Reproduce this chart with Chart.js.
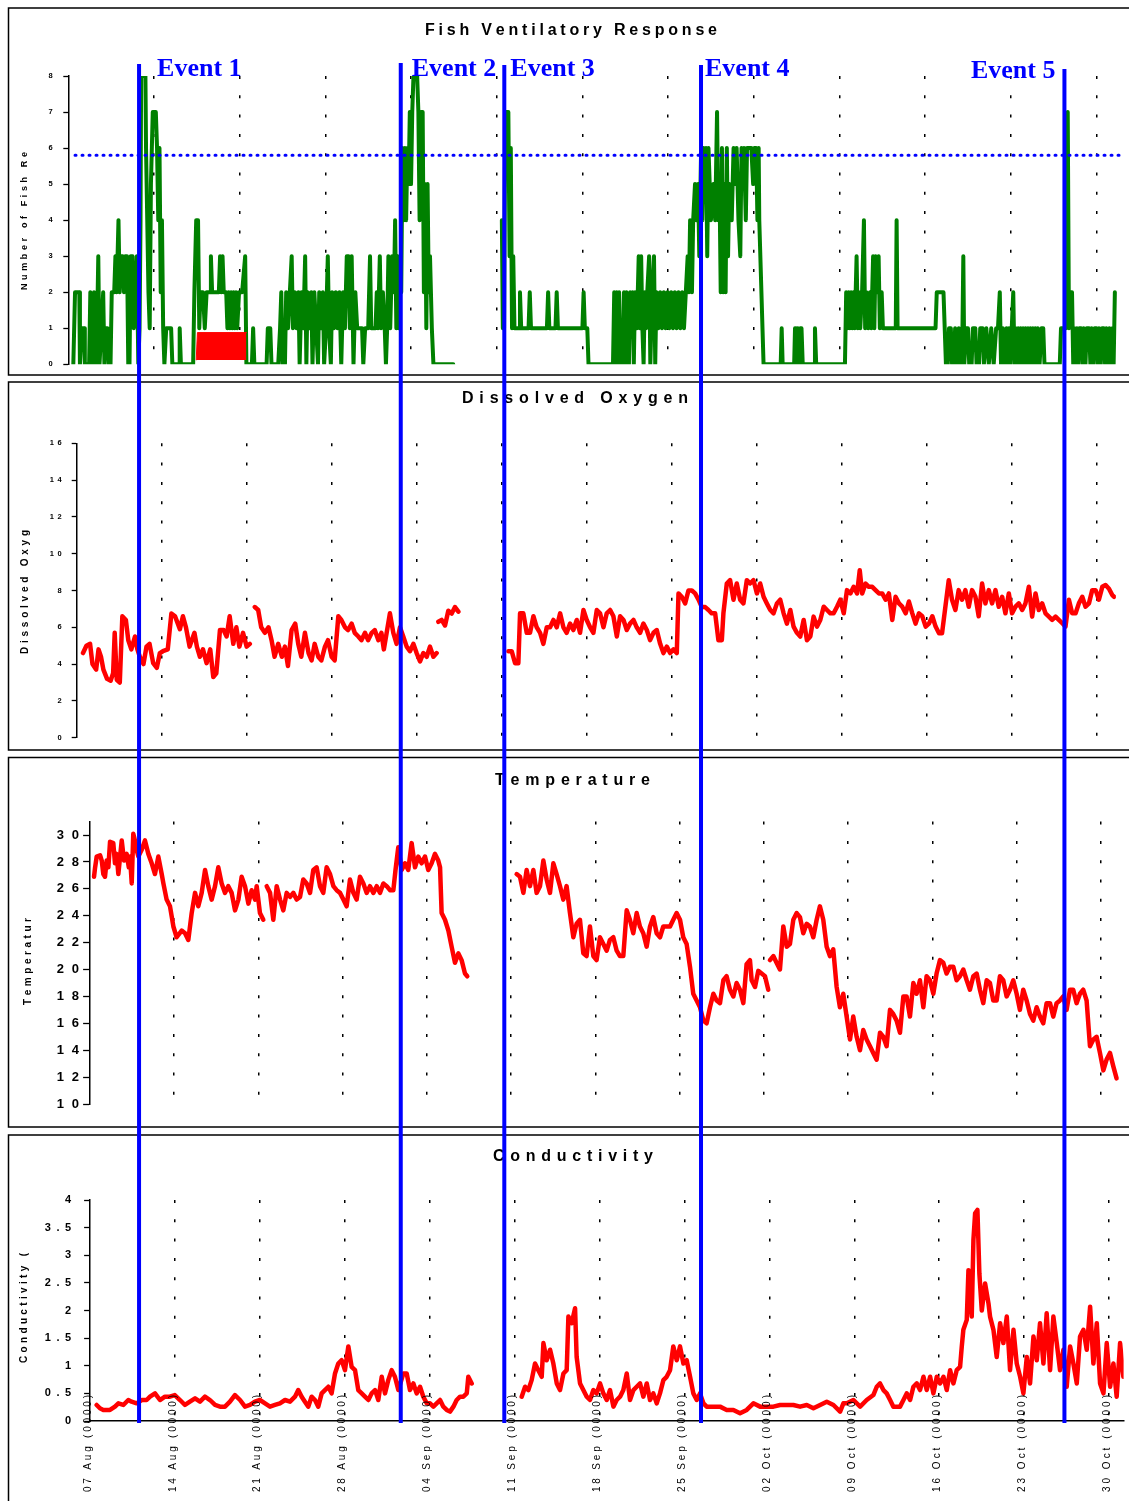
<!DOCTYPE html>
<html><head><meta charset="utf-8">
<script src="https://cdn.jsdelivr.net/npm/chart.js@4.4.1/dist/chart.umd.min.js"></script>
<style>
html,body{margin:0;padding:0;background:#fff;}
#wrap{position:relative;width:1129px;height:1501px;overflow:hidden;background:#fff;}
#wrap canvas{position:absolute;left:0;}
#ov{pointer-events:none;}
</style></head><body>
<div id="wrap">
<canvas id="c1" width="1129" height="378" style="top:0px"></canvas>
<canvas id="c2" width="1129" height="376" style="top:378px"></canvas>
<canvas id="c3" width="1129" height="377" style="top:754px"></canvas>
<canvas id="c4" width="1129" height="370" style="top:1131px"></canvas>
<canvas id="ov" width="1129" height="1501" style="top:0px"></canvas>
</div>
<script>
// ---------- DATA (days since 07 Aug 00:00) ----------
const weekDays = [0,7,14,21,28,35,42,49,56,63,70,77,84];
const weekLabels = ['07 Aug (0000)','14 Aug (0000)','21 Aug (0000)','28 Aug (0000)','04 Sep (0000)','11 Sep (0000)','18 Sep (0000)','25 Sep (0000)','02 Oct (0000)','09 Oct (0000)','16 Oct (0000)','23 Oct (0000)','30 Oct (0000)'];
const panelTitles = ['Fish Ventilatory Response','Dissolved Oxygen','Temperature','Conductivity'];
const axisTitles = ['Number of Fish Re','Dissolved Oxyg','Temperatur','Conductivity ('];
const fishTicks = [0,1,2,3,4,5,6,7,8];
const doTicks = [0,2,4,6,8,10,12,14,16];
const tempTicks = [10,12,14,16,18,20,22,24,26,28,30];
const condTicks = [0,0.5,1,1.5,2,2.5,3,3.5,4];
const eventNames = ['Event 1','Event 2','Event 3','Event 4','Event 5'];
const eventDays = [5.78,27.16,35.62,51.69,81.38];
const thresholdDays = [0.55,85.9];
const thresholdVals = [5.8,5.8];
const redDays = [10.45,10.55,14.55];
const redVals = [0.12,0.88,0.88];

const fishDays = [
0.41,0.55,0.9,0.95,1.1,1.3,1.35,1.7,1.8,2.0,
2.1,2.2,2.3,2.45,2.55,2.7,2.85,2.95,3.05,3.2,
3.3,3.45,3.55,3.75,3.85,3.95,4.1,4.2,4.3,4.45,
4.55,4.65,4.8,4.9,5.0,5.1,5.25,5.35,5.5,5.6,
5.72,5.82,5.9,5.95,6.3,6.35,6.45,6.55,6.65,6.75,
6.9,7.15,7.25,7.35,7.45,7.55,7.65,7.75,7.85,8.0,
8.4,8.5,9.05,9.1,9.2,10.2,10.3,10.45,10.6,10.7,
10.8,11.0,11.15,11.3,11.6,11.65,11.75,12.3,12.4,12.5,
12.6,12.7,12.9,13.0,13.1,13.2,13.3,13.4,13.5,13.6,
13.7,13.8,13.95,14.2,14.45,14.55,15.0,15.1,15.2,16.2,
16.3,16.5,16.6,17.15,17.3,17.4,17.5,17.6,17.7,17.8,
17.95,18.1,18.25,18.35,18.5,18.65,18.8,18.9,19.05,19.2,
19.35,19.45,19.55,19.7,19.85,19.95,20.1,20.25,20.4,20.5,
20.65,20.8,20.9,21.05,21.2,21.3,21.45,21.55,21.7,21.85,
22.0,22.15,22.3,22.45,22.6,22.75,22.9,23.0,23.15,23.3,
23.45,23.6,23.75,24.0,24.1,24.25,24.5,24.65,24.75,25.1,
25.2,25.3,25.45,25.55,25.7,25.85,25.95,26.05,26.15,26.3,
26.45,26.6,26.7,26.8,26.9,27.0,27.1,27.2,27.3,27.4,
27.5,27.6,27.7,27.8,27.9,28.0,28.1,28.2,28.5,28.6,
28.7,28.8,28.95,29.05,29.15,29.25,29.35,29.45,29.55,29.7,
29.83,31.45,31.6,35.42,35.5,35.6,35.7,35.95,36.05,36.15,
36.25,36.35,36.45,36.85,36.9,37.0,37.6,37.7,37.8,39.1,
39.2,39.3,39.8,39.9,40.0,42.0,42.1,42.2,42.4,42.5,
44.5,44.6,44.7,44.8,44.9,45.0,45.1,45.2,45.3,45.4,
45.5,45.6,45.7,45.8,45.9,46.0,46.1,46.2,46.3,46.45,
46.6,46.7,46.8,46.9,47.0,47.1,47.2,47.3,47.45,47.55,
47.7,47.85,47.95,48.05,48.2,48.35,48.5,48.65,48.8,48.95,
49.1,49.25,49.4,49.55,49.7,49.85,50.0,50.15,50.3,50.45,
50.6,50.7,50.8,50.95,51.05,51.2,51.3,51.45,51.55,51.7,
51.8,51.9,52.0,52.1,52.2,52.3,52.5,52.7,52.85,53.0,
53.1,53.2,53.3,53.4,53.5,53.6,53.7,53.8,53.9,54.0,
54.2,54.35,54.5,54.6,54.75,54.9,55.0,55.1,55.2,55.35,
55.45,55.6,55.8,55.95,56.05,56.2,56.3,56.4,56.45,56.8,
58.2,58.28,58.36,59.3,59.37,59.45,59.6,59.7,59.8,59.9,
60.0,60.95,61.0,61.1,63.45,63.55,63.65,63.75,63.85,63.95,
64.05,64.15,64.25,64.4,64.5,64.6,64.7,64.85,65.0,65.1,
65.2,65.35,65.5,65.6,65.75,65.85,65.95,66.1,66.2,66.3,
66.45,66.55,67.6,67.67,67.75,70.85,70.95,71.5,71.7,71.85,
71.95,72.1,72.2,72.35,72.45,72.6,72.75,72.9,73.05,73.12,
73.2,73.35,73.5,73.6,73.8,73.9,74.1,74.2,74.4,74.5,
74.7,74.8,75.0,75.2,75.4,75.6,75.8,75.95,76.1,76.2,
76.35,76.5,76.65,76.75,76.85,76.95,77.2,77.3,77.4,77.5,
77.6,77.7,77.8,77.9,78.0,78.1,78.2,78.3,78.4,78.5,
78.6,78.7,78.8,78.9,79.0,79.1,79.2,79.35,79.5,79.65,
79.75,81.0,81.1,81.5,81.65,81.75,81.85,82.0,82.1,82.2,
82.3,82.4,82.5,82.6,82.75,82.85,82.95,83.1,83.2,83.4,
83.5,83.6,83.75,83.85,84.0,84.1,84.2,84.35,84.45,84.6,
84.7,84.8,84.95,85.05,85.2,85.3,85.4,85.5];
const fishCounts = [
0,2,2,0,1,1,0,0,2,0,
2,1,0,3,0,1,2,0,1,1,
0,0,2,2,3,2,4,2,3,3,
2,3,3,0,0,3,3,1,2,3,
0,1,4,8,8,6,4,2,1,5,
7,7,6,4,6,2,4,1,0,1,
1,0,0,1,0,0,2,4,4,1,
2,2,1,2,2,3,2,2,3,2,
3,2,2,1,2,1,2,1,2,1,
2,1,2,2,3,0,0,1,0,0,
1,1,0,0,1,2,0,1,0,2,
1,2,3,1,2,1,2,0,2,1,
3,0,2,1,2,0,2,1,0,2,
1,2,0,1,3,1,0,2,1,2,
1,2,0,2,1,3,3,1,3,0,
2,1,1,1,0,1,1,3,1,1,
2,1,3,1,2,1,0,1,3,1,
3,2,4,1,3,1,3,2,6,4,
6,4,6,5,7,5,7,8,8,7,
4,7,7,2,5,1,5,2,3,1,
0,0,null,4,1,1,7,7,3,6,
1,3,1,1,2,1,1,2,1,1,
2,1,1,2,1,1,2,1,1,0,
0,2,0,2,0,2,0,1,0,2,
0,2,1,0,2,1,2,0,2,1,
3,1,3,1,0,2,1,2,3,0,
2,3,0,2,1,2,1,2,1,2,
1,2,1,2,1,2,1,2,1,2,
3,2,4,2,4,5,4,5,3,6,
4,6,5,6,3,6,4,5,4,7,
4,5,2,6,2,5,2,6,3,5,
4,6,5,6,4,3,6,5,6,4,
6,6,6,5,6,6,4,6,4,0,
0,1,0,0,1,0,1,0,1,1,
0,0,1,0,0,2,1,2,1,2,
1,2,1,3,1,2,1,2,4,1,
2,1,2,1,3,1,3,2,3,1,
2,1,1,4,1,1,2,2,0,0,
1,1,0,0,1,0,1,0,1,3,
0,1,1,0,0,1,1,0,0,1,
1,0,1,0,1,0,1,1,2,0,
1,0,1,0,1,0,2,0,1,0,
1,0,1,0,1,0,1,0,1,0,
1,0,1,0,1,0,1,0,1,1,
0,0,1,1,7,1,2,2,0,1,
0,1,0,1,1,0,1,0,1,1,
0,1,0,1,1,0,1,0,1,1,
0,1,0,1,0,1,0,2];

const doDays = [
0.52,0.8,1.1,1.3,1.6,1.8,2.0,2.2,2.5,2.8,
3.0,3.13,3.3,3.55,3.76,4.05,4.25,4.5,4.8,5.0,
5.2,5.5,5.75,6.0,6.3,6.6,6.85,7.1,7.5,7.8,
8.1,8.5,8.75,9.0,9.3,9.7,9.9,10.15,10.4,10.7,
11.0,11.25,11.5,11.8,12.1,12.35,12.6,12.9,13.15,13.4,
13.7,14.0,14.26,14.45,14.67,14.95,15.2,15.5,15.8,16.05,
16.3,16.6,16.9,17.15,17.4,17.7,18.0,18.25,18.5,18.8,
19.1,19.35,19.6,19.9,20.15,20.45,20.7,21.0,21.25,21.55,
21.8,22.1,22.35,22.65,22.9,23.2,23.45,23.75,24.0,24.3,
24.55,24.85,25.1,25.3,25.53,25.8,26.08,26.35,26.63,26.9,
27.18,27.45,27.73,28.0,28.28,28.55,28.83,29.1,29.38,29.65,
29.72,29.79,30.06,30.34,30.61,30.89,31.16,31.44,31.6,35.56,
35.83,36.11,36.38,36.52,36.79,37.07,37.34,37.62,37.89,38.17,
38.44,38.72,38.99,39.27,39.54,39.82,40.09,40.36,40.64,40.91,
41.19,41.46,41.74,42.01,42.29,42.56,42.84,43.11,43.39,43.66,
43.94,44.21,44.49,44.76,45.04,45.31,45.58,45.86,46.13,46.41,
46.68,46.96,47.23,47.51,47.78,48.06,48.33,48.61,48.88,49.16,
49.43,49.57,49.84,50.12,50.39,50.67,50.94,51.22,51.49,51.77,
52.04,52.31,52.59,52.86,53.14,53.27,53.55,53.82,54.1,54.37,
54.65,54.92,55.2,55.47,55.75,56.03,56.3,56.58,56.85,57.13,
57.4,57.68,57.95,58.23,58.5,58.78,59.05,59.33,59.6,59.88,
60.15,60.43,60.7,60.98,61.25,61.53,61.8,62.08,62.35,62.63,
62.9,63.18,63.45,63.73,64.0,64.28,64.5,64.7,64.98,65.25,
65.53,65.8,66.08,66.35,66.63,66.9,67.18,67.45,67.73,68.0,
68.28,68.55,68.83,69.1,69.38,69.65,69.93,70.2,70.48,70.75,
71.03,71.28,71.83,72.1,72.38,72.65,72.93,73.2,73.48,73.75,
74.03,74.3,74.58,74.85,75.13,75.4,75.68,75.95,76.23,76.5,
76.78,77.05,77.33,77.6,77.88,78.15,78.43,78.7,78.98,79.25,
79.53,79.8,80.08,80.35,80.63,80.9,81.18,81.45,81.73,82.0,
82.28,82.55,82.83,83.1,83.38,83.65,83.93,84.2,84.48,84.75,
85.03,85.3,85.45];
const doVals = [
4.6,5.0,5.1,4.0,3.7,4.8,4.4,3.7,3.2,3.1,
3.5,5.7,3.15,3.0,6.6,6.4,5.3,4.8,5.5,4.8,
4.4,4.0,4.95,5.1,4.05,3.8,4.6,4.7,4.8,6.75,
6.6,5.9,6.6,6.0,4.95,5.7,4.95,4.4,4.8,4.05,
4.8,3.3,3.5,5.85,5.85,5.5,6.6,5.1,6.0,4.95,
5.7,4.95,5.1,null,7.1,6.94,6.0,5.7,6.0,5.3,
4.4,5.1,4.4,4.95,3.9,5.85,6.2,5.1,4.4,5.7,
4.6,4.2,5.1,4.4,4.2,4.95,5.3,4.4,4.2,6.6,
6.4,6.0,5.85,6.2,5.7,5.5,5.3,5.7,5.3,5.7,
5.85,5.3,5.7,4.8,5.7,6.76,5.7,5.1,6.0,5.5,
4.95,4.7,5.1,4.6,4.15,4.6,4.4,4.95,4.4,4.6,
null,6.3,6.4,6.1,6.9,6.75,7.1,6.85,null,4.7,
4.7,4.05,4.05,6.76,6.76,5.7,5.7,6.6,6.0,5.7,
5.1,6.0,6.0,6.4,6.0,6.76,6.0,5.7,6.2,5.85,
6.4,5.7,6.94,6.4,6.0,5.7,6.94,6.76,6.0,6.76,
6.94,6.6,5.5,6.6,6.4,5.85,6.2,6.4,6.0,5.7,
6.2,5.85,5.3,5.7,5.85,5.1,4.6,4.95,4.6,4.8,
4.6,7.84,7.66,7.3,8.0,8.0,7.84,7.5,7.1,7.1,
6.94,6.76,6.76,5.3,5.3,6.76,8.38,8.56,7.5,8.38,
7.5,7.3,8.56,8.38,8.56,7.84,8.38,7.66,7.3,6.94,
6.76,7.3,7.5,6.76,6.2,6.94,6.04,5.7,5.5,6.4,
5.3,5.5,6.58,6.04,6.4,7.12,6.94,6.76,6.76,7.12,
7.5,6.76,8.02,7.84,8.2,7.84,9.1,7.84,8.38,8.2,
8.2,8.02,7.84,7.84,7.5,7.84,6.4,7.66,7.3,7.12,
6.76,7.4,6.76,6.2,6.76,6.6,6.04,6.2,6.6,6.04,
5.68,5.68,8.56,7.5,6.94,8.02,7.5,8.02,7.12,8.02,
7.66,6.6,8.38,7.3,8.02,7.3,8.02,7.12,7.66,6.76,
7.84,6.76,7.12,7.3,6.94,7.3,8.2,6.58,7.84,6.94,
7.3,6.76,6.58,6.4,6.58,6.4,6.22,6.04,7.5,6.76,
6.76,7.3,7.66,7.12,7.3,8.02,8.02,7.5,8.2,8.3,
8.1,7.75,7.66];

const tempDays = [
0.36,0.45,0.58,0.86,1.0,1.13,1.27,1.41,1.55,1.69,
1.96,2.1,2.24,2.38,2.66,2.85,3.07,3.25,3.35,3.49,
3.62,3.76,3.9,4.04,4.32,4.59,4.87,5.15,5.42,5.7,
5.98,6.12,6.39,6.67,6.95,7.22,7.64,7.92,8.19,8.47,
8.75,9.02,9.3,9.58,9.85,10.13,10.41,10.68,10.96,11.24,
11.51,11.79,12.07,12.35,12.62,12.9,13.18,13.45,13.73,13.87,
14.14,14.42,14.56,14.7,14.98,15.25,15.53,15.81,16.08,16.36,
16.64,16.91,17.19,17.47,17.74,18.02,18.3,18.57,18.85,19.13,
19.4,19.68,19.96,20.24,20.51,20.79,21.07,21.34,21.62,21.9,
22.17,22.45,22.73,23.0,23.28,23.56,23.84,24.11,24.39,24.67,
24.94,25.22,25.4,25.63,25.91,26.19,26.46,26.74,27.02,27.29,
27.57,27.85,28.12,28.4,28.68,28.95,29.1,29.23,29.51,29.79,
30.06,30.34,30.62,30.89,31.17,31.36,31.5,35.46,35.74,36.02,
36.29,36.57,36.85,37.12,37.4,37.68,37.95,38.23,38.51,38.78,
39.06,39.34,39.61,39.89,40.17,40.44,40.72,41.0,41.27,41.55,
41.83,42.1,42.38,42.66,42.94,43.21,43.49,43.77,44.04,44.32,
44.6,44.87,45.15,45.43,45.7,45.98,46.26,46.54,46.81,47.09,
47.37,47.64,47.92,48.2,48.47,48.75,49.03,49.3,49.58,49.86,
50.13,50.41,50.69,50.97,51.24,51.52,51.8,52.07,52.35,52.63,
52.9,53.18,53.46,53.73,54.01,54.29,54.56,54.84,54.98,55.26,
55.53,55.81,56.09,56.36,56.43,56.5,56.78,57.05,57.33,57.61,
57.89,58.16,58.44,58.72,58.99,59.27,59.55,59.82,60.1,60.38,
60.65,60.93,61.21,61.48,61.76,62.04,62.31,62.59,62.87,63.15,
63.42,63.7,63.98,64.25,64.53,64.81,65.08,65.36,65.64,65.91,
66.19,66.47,66.74,67.02,67.3,67.58,67.85,68.13,68.41,68.68,
68.96,69.24,69.51,69.79,70.07,70.34,70.62,70.9,71.17,71.45,
71.73,72.0,72.28,72.56,72.84,73.11,73.39,73.67,73.94,74.22,
74.5,74.77,75.05,75.33,75.6,75.88,76.16,76.43,76.71,76.99,
77.26,77.54,77.82,78.1,78.37,78.65,78.93,79.2,79.48,79.76,
80.03,80.31,80.59,80.86,81.14,81.42,81.69,81.97,82.25,82.52,
82.8,83.08,83.36,83.63,83.91,84.19,84.46,84.74,85.02,85.29];
const tempVals = [
26.9,27.6,28.4,28.5,28.1,27.1,26.9,28.1,27.6,29.5,
29.4,27.9,28.6,27.1,29.6,28.1,28.6,27.6,28.4,26.4,
30.1,29.6,28.9,28.4,28.9,29.6,28.6,27.9,27.1,28.4,
27.1,26.4,25.2,24.7,23.2,22.4,22.9,22.7,22.2,24.2,
25.7,24.7,25.7,27.4,26.2,25.2,26.2,27.6,26.4,25.7,
26.2,25.7,24.4,25.2,26.9,26.2,24.9,25.9,25.2,26.2,
24.2,23.7,null,26.2,25.7,23.7,26.2,25.2,24.4,25.7,
25.4,25.7,25.2,25.4,26.7,26.4,25.7,27.4,27.6,26.2,
25.7,27.6,27.1,26.2,25.9,25.7,25.2,24.7,26.7,25.7,
25.2,26.9,26.4,25.7,26.2,25.7,26.2,25.7,26.4,26.2,
25.9,25.9,27.4,29.1,27.4,27.9,27.4,29.4,27.6,28.4,
27.9,28.4,27.4,27.9,28.6,28.1,27.6,24.2,23.7,22.9,
21.7,20.5,21.2,20.7,19.7,19.5,null,27.1,26.9,25.7,
27.4,26.2,27.4,25.7,26.2,28.1,26.7,25.7,27.9,27.1,
26.2,25.2,26.2,24.2,22.4,23.4,23.7,21.2,21.0,23.2,
21.0,20.7,22.4,21.9,21.4,22.2,22.4,21.4,21.0,21.0,
24.4,23.7,22.7,24.2,23.2,22.7,21.7,23.2,23.9,22.7,
22.4,23.2,23.2,23.2,23.7,24.2,23.7,22.4,21.9,20.2,
18.2,17.7,17.2,16.2,16.0,17.2,18.2,17.7,17.5,19.2,
19.5,18.5,18.0,19.0,18.5,17.5,20.4,20.7,19.2,18.7,
19.9,19.7,19.5,18.5,null,20.7,21.0,20.5,20.0,23.2,
21.7,21.9,23.7,24.2,23.9,22.7,23.4,23.2,22.4,23.7,
24.7,23.7,21.7,21.0,21.5,18.7,17.2,18.2,16.5,14.8,
16.5,15.0,14.0,15.5,14.8,14.3,13.8,13.3,15.3,15.0,
14.3,17.0,16.7,16.2,15.3,18.0,18.0,16.5,19.0,18.2,
19.2,17.2,19.5,19.2,18.2,19.7,20.7,20.5,19.7,20.2,
20.2,19.2,19.5,20.0,19.2,18.5,19.5,19.7,18.5,17.5,
19.2,19.0,17.7,17.7,19.5,19.2,18.0,18.5,19.2,18.2,
17.0,18.5,17.7,16.7,16.2,17.2,16.5,16.0,17.5,17.5,
16.5,17.5,17.7,18.0,17.0,18.5,18.5,17.5,18.2,18.5,
17.7,14.3,14.8,15.0,13.8,12.5,13.3,13.8,12.8,11.9];

const condDays = [
0.54,0.81,1.09,1.64,2.05,2.33,2.74,3.15,3.42,3.84,
4.25,4.66,4.94,5.35,5.76,6.17,6.58,6.98,7.41,7.82,
8.23,8.65,9.06,9.47,9.88,10.3,10.71,11.12,11.53,11.94,
12.36,12.77,13.18,13.59,14.0,14.42,14.83,15.24,15.65,16.07,
16.48,16.89,17.16,17.44,17.71,17.99,18.26,18.54,18.81,19.09,
19.36,19.64,19.91,20.19,20.46,20.74,21.01,21.29,21.56,21.84,
22.11,22.39,22.66,22.94,23.21,23.49,23.76,24.04,24.31,24.58,
24.86,25.13,25.41,25.82,26.1,26.37,26.65,26.92,27.2,27.47,
27.75,28.02,28.3,28.57,28.85,29.12,29.4,29.67,29.95,30.22,
30.5,30.77,31.05,31.18,31.46,31.6,35.58,35.86,36.13,36.4,
36.68,36.95,37.23,37.37,37.64,37.92,38.19,38.47,38.74,39.02,
39.29,39.43,39.7,39.98,40.11,40.39,40.66,40.94,41.21,41.49,
41.76,42.04,42.31,42.59,42.86,43.14,43.41,43.69,43.96,44.24,
44.51,44.79,45.06,45.34,45.61,45.89,46.16,46.43,46.71,46.98,
47.26,47.53,47.81,48.08,48.36,48.63,48.91,49.18,49.46,49.73,
50.01,50.28,50.56,50.83,51.38,51.93,52.48,53.03,53.58,54.13,
54.68,55.23,55.78,56.33,56.88,57.43,57.98,58.53,59.08,59.63,
60.18,60.73,61.28,61.83,62.1,62.38,62.93,63.48,64.02,64.57,
64.85,65.12,65.4,65.67,65.95,66.22,66.5,66.77,67.05,67.32,
67.6,67.87,68.15,68.42,68.7,68.97,69.25,69.52,69.8,70.07,
70.35,70.62,70.9,71.17,71.44,71.72,71.86,71.99,72.27,72.41,
72.68,72.82,72.96,73.15,73.31,73.51,73.78,74.06,74.19,74.47,
74.74,75.02,75.29,75.57,75.84,76.12,76.39,76.67,76.94,77.22,
77.49,77.77,78.04,78.31,78.59,78.86,79.14,79.41,79.69,79.96,
80.24,80.51,80.79,81.06,81.34,81.61,81.89,82.16,82.44,82.71,
82.99,83.26,83.54,83.81,84.09,84.36,84.63,84.91,85.18];
const condVals = [
0.29,0.23,0.2,0.2,0.26,0.32,0.29,0.38,0.35,0.32,
0.38,0.38,0.44,0.5,0.38,0.44,0.44,0.47,0.38,0.29,
0.35,0.41,0.35,0.44,0.38,0.29,0.26,0.26,0.35,0.47,
0.38,0.26,0.29,0.35,0.38,0.32,0.26,0.29,0.32,0.38,
0.35,0.44,0.56,0.44,0.35,0.26,0.44,0.38,0.26,0.5,
0.56,0.62,0.5,0.86,1.04,1.1,0.92,1.35,0.98,0.92,
0.56,0.5,0.44,0.38,0.5,0.56,0.38,0.8,0.5,0.74,
0.92,0.8,0.56,0.86,0.86,0.56,0.68,0.5,0.62,0.44,
0.32,0.32,0.26,0.32,0.38,0.26,0.2,0.17,0.26,0.38,
0.44,0.44,0.5,0.8,0.68,null,0.44,0.62,0.56,0.74,
1.04,0.92,0.8,1.41,1.1,1.29,1.04,0.68,0.56,0.86,
0.92,1.89,1.77,2.04,1.16,0.68,0.56,0.44,0.38,0.56,
0.5,0.68,0.5,0.38,0.56,0.26,0.38,0.44,0.56,0.86,
0.38,0.56,0.62,0.68,0.44,0.68,0.38,0.5,0.32,0.5,
0.74,0.8,0.92,1.35,1.1,1.35,1.04,1.1,0.8,0.5,
0.38,0.5,0.32,0.26,0.26,0.26,0.2,0.2,0.14,0.2,
0.32,0.26,0.26,0.26,0.29,0.29,0.29,0.26,0.29,0.23,
0.29,0.35,0.29,0.17,0.32,0.32,0.38,0.26,0.38,0.47,
0.62,0.68,0.56,0.5,0.38,0.26,0.26,0.26,0.38,0.5,
0.38,0.62,0.68,0.56,0.8,0.56,0.8,0.5,0.8,0.68,
0.8,0.56,0.92,0.68,0.92,0.98,1.35,1.65,1.83,2.73,
1.89,3.28,3.76,3.82,2.67,2.0,2.49,2.13,1.89,1.65,
1.16,1.77,1.41,1.89,0.92,1.65,1.04,0.8,0.5,1.16,
0.68,1.53,1.1,1.77,1.04,1.95,0.92,1.89,1.41,0.92,
1.29,0.62,1.35,1.04,0.68,1.53,1.65,1.29,2.07,1.04,
1.77,0.68,0.5,1.41,0.62,1.04,0.44,1.41,0.8];

// ---------- STYLE / LAYOUT ----------
const GREEN = '#008000', RED = '#ff0000', BLUE = '#0000ff';
const SANS = '"Liberation Sans", Arial, sans-serif';
const panels = [
  {id:'c1', top:0,    pad:{left:8.3, right:1.9, top:76,   bottom:13.7}, xMax:86.5, yMin:0,  yMax:8,  ticks:fishTicks, tick:{size:7.5, ls:2,   pad:8.6, tl:5},   xBorder:false, lw:4},
  {id:'c2', top:378,  pad:{left:16.7,right:13.1,top:65.3, bottom:16.3}, xMax:85.6, yMin:0,  yMax:16, ticks:doTicks,   tick:{size:7.5, ls:3.5, pad:6.5, tl:5},   xBorder:false, lw:4.5},
  {id:'c3', top:754,  pad:{left:29.7,right:9.9, top:67.6, bottom:27},   xMax:85.5, yMin:10, yMax:31, ticks:tempTicks, tick:{size:13,  ls:8,   pad:-4,  tl:6.6}, xBorder:false, lw:4.5},
  {id:'c4', top:1131, pad:{left:30.1,right:5.4, top:69,   bottom:80},   xMax:85.2, yMin:0,  yMax:4,  ticks:condTicks, tick:{size:11,  ls:5.5, pad:7.5, tl:6},   xBorder:true,  lw:4.5}
];
const frames = [[8,375],[382,750],[757.5,1127],[1135,1560]];
const titleStyle = [
  {cx:571, cy:30.5, w:292, size:16},
  {cx:575, cy:399,  w:226, size:16},
  {cx:572.5, cy:780.5, w:155, size:16},
  {cx:573, cy:1157, w:160, size:16}
];
const axisTitleStyle = [
  {cx:25,   cy:221,    w:138, size:9},
  {cx:25,   cy:592,    w:124, size:10},
  {cx:28.7, cy:961.5,  w:87,  size:10},
  {cx:24.5, cy:1308,   w:110, size:10}
];
const eventStyle = [
  {top:64, dx:18, align:'left',  base:76},
  {top:63, dx:11, align:'left',  base:76},
  {top:65, dx:6,  align:'left',  base:76},
  {top:65, dx:4,  align:'left',  base:76},
  {top:69, dx:-9, align:'right', base:78}
];

const pts = (xs, ys) => xs.map((x, i) => ({x: x, y: ys[i]}));
const lineDs = (data, color, lw, extra) => Object.assign({
  data: data, borderColor: color, backgroundColor: color, borderWidth: lw,
  pointRadius: 0, fill: false, spanGaps: false, tension: 0,
  borderJoinStyle: 'round', borderCapStyle: 'round'
}, extra || {});

function makeChart(p, datasets) {
  const tickLS = p.tick.ls;
  return new Chart(document.getElementById(p.id), {
    type: 'line',
    data: {datasets: datasets},
    options: {
      responsive: false, animation: false, events: [],
      layout: {padding: p.pad},
      plugins: {legend: {display: false}, tooltip: {enabled: false}, title: {display: false}},
      scales: {
        x: {
          type: 'linear', min: 0, max: p.xMax,
          afterBuildTicks: s => { s.ticks = weekDays.map(v => ({value: v})); },
          ticks: {display: false, autoSkip: false},
          grid: {
            drawTicks: false, lineWidth: 1.5,
            color: c => (c.tick && c.tick.value > 0) ? '#000' : 'rgba(0,0,0,0)'
          },
          border: {display: p.xBorder, color: '#000', width: 1.5, dash: [3, 16.3]},
          afterFit: s => { s.height = 0; }
        },
        y: {
          type: 'linear', min: p.yMin, max: p.yMax,
          afterBuildTicks: s => { s.ticks = p.ticks.map(v => ({value: v})); },
          ticks: {color: '#000', autoSkip: false, padding: p.tick.pad,
                  callback: v => String(v),
                  font: {family: SANS, size: p.tick.size, weight: 'bold'}},
          grid: {drawOnChartArea: false, drawTicks: true, tickLength: p.tick.tl,
                 tickColor: '#000', tickWidth: 1.3, color: '#000'},
          border: {display: true, color: '#000', width: 1.5},
          afterFit: s => { s.width = 60; }
        }
      }
    },
    plugins: [{
      id: 'tickSpacing',
      beforeDraw(chart) { chart.ctx.letterSpacing = tickLS + 'px'; },
      afterDraw(chart) { chart.ctx.letterSpacing = '0px'; }
    }]
  });
}

const charts = [];
charts.push(makeChart(panels[0], [
  lineDs(pts(thresholdDays, thresholdVals), BLUE, 3, {borderDash: [1, 6]}),
  lineDs(pts(redDays, redVals), RED, 1, {fill: {value: 0.12}}),
  lineDs(pts(fishDays, fishCounts), GREEN, panels[0].lw)
]));
charts.push(makeChart(panels[1], [lineDs(pts(doDays, doVals), RED, panels[1].lw)]));
charts.push(makeChart(panels[2], [lineDs(pts(tempDays, tempVals), RED, panels[2].lw)]));
charts.push(makeChart(panels[3], [lineDs(pts(condDays, condVals), RED, panels[3].lw)]));

// ---------- OVERLAY: frames, titles, date labels, events ----------
const ov = document.getElementById('ov').getContext('2d');
function spacedText(ctx, text, x, y, font, targetW, angle, align, baseline) {
  ctx.save();
  ctx.font = font;
  ctx.translate(x, y);
  if (angle) ctx.rotate(angle);
  const chars = Array.from(text);
  const ws = chars.map(c => ctx.measureText(c).width);
  const raw = ws.reduce((a, b) => a + b, 0);
  const sp = chars.length > 1 ? (targetW - raw) / (chars.length - 1) : 0;
  let cx = align === 'center' ? -targetW / 2 : (align === 'right' ? -targetW : 0);
  ctx.textAlign = 'left';
  ctx.textBaseline = baseline || 'middle';
  chars.forEach((c, i) => { ctx.fillText(c, cx, 0); cx += ws[i] + sp; });
  ctx.restore();
}

ov.strokeStyle = '#000';
ov.lineWidth = 1.5;
frames.forEach(f => { ov.strokeRect(8.5, f[0], 1200, f[1] - f[0]); });

ov.fillStyle = '#000';
panelTitles.forEach((t, i) => {
  const s = titleStyle[i];
  spacedText(ov, t, s.cx, s.cy, 'bold ' + s.size + 'px ' + SANS, s.w, 0, 'center');
});
axisTitles.forEach((t, i) => {
  const s = axisTitleStyle[i];
  spacedText(ov, t, s.cx, s.cy, 'bold ' + s.size + 'px ' + SANS, s.w, -Math.PI / 2, 'center');
});

const xs4 = charts[3].scales.x;
weekDays.forEach((d, i) => {
  const gx = xs4.getPixelForValue(d);
  spacedText(ov, weekLabels[i], gx + 0.5, 1492, '10px ' + SANS, 97, -Math.PI / 2, 'left', 'alphabetic');
});

const xs1 = charts[0].scales.x;
eventDays.forEach((d, i) => {
  const ex = xs1.getPixelForValue(d);
  const s = eventStyle[i];
  ov.fillStyle = BLUE;
  ov.fillRect(ex - 2, s.top, 4, 1423 - s.top);
  ov.font = 'bold 26px "Liberation Serif", "Times New Roman", serif';
  ov.textAlign = s.align;
  ov.textBaseline = 'alphabetic';
  ov.fillText(eventNames[i], ex + s.dx, s.base);
});
</script>
</body></html>
